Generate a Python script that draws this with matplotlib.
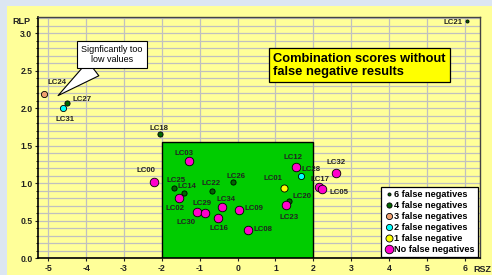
import matplotlib
matplotlib.use("Agg")
import matplotlib.pyplot as plt
from matplotlib.patches import Rectangle
from matplotlib.ticker import MultipleLocator, FormatStrFormatter

plt.rcParams['font.family'] = ['Liberation Sans', 'DejaVu Sans']

# ---- data ----
labels = ["LC21",
          "LC27", "LC18", "LC25", "LC14", "LC22", "LC26", "LC20",
          "LC24",
          "LC31", "LC28",
          "LC01",
          "LC00", "LC03", "LC02", "LC30", "LC29", "LC34", "LC16", "LC09",
          "LC08", "LC12", "LC23", "LC17", "LC05", "LC32"]
rsz = [6.05,
       -4.51, -2.04, -1.69, -1.42, -0.68, -0.11, 1.36,
       -5.10,
       -4.60, 1.68,
       1.22,
       -2.21, -1.29, -1.56, -1.08, -0.85, -0.40, -0.52, 0.04,
       0.28, 1.55, 1.28, 2.14, 2.24, 2.60]
rlp = [3.17,
       2.07, 1.66, 0.93, 0.87, 0.90, 1.01, 0.755,
       2.19,
       2.00, 1.09,
       0.93,
       1.02, 1.29, 0.80, 0.62, 0.60, 0.68, 0.53, 0.64,
       0.375, 1.21, 0.71, 0.95, 0.92, 1.14]
false_neg = [6,
             4, 4, 4, 4, 4, 4, 4,
             3,
             2, 2,
             1,
             0, 0, 0, 0, 0, 0, 0, 0,
             0, 0, 0, 0, 0, 0]
categories = [6, 4, 3, 2, 1, 0]
category_names = ["6 false negatives", "4 false negatives", "3 false negatives",
                  "2 false negatives", "1 false negative", "No false negatives"]
zone_rsz = [-2, 2]
zone_rlp = [0, 1.55]

# ---- styles ----
cat_color = {6: "#006600", 4: "#006600", 3: "#f0a070", 2: "#00ffff", 1: "#ffff00", 0: "#ff00cc"}
cat_size = {6: 5, 4: 14, 3: 20, 2: 20, 1: 26, 0: 38}
label_offset = {
    "LC24": (9, 8), "LC27": (11, 2.5), "LC31": (1, -8), "LC18": (-1, 4),
    "LC21": (-10, -1.5), "LC03": (-3.4, 6), "LC00": (-6, 7.7), "LC25": (2, 5.5),
    "LC14": (2, 4.5), "LC02": (-2.6, -7.7), "LC22": (-0.7, 5.3), "LC26": (1.7, 4.3),
    "LC29": (-2.2, 7), "LC30": (-7.7, -8), "LC34": (2.4, 5.8), "LC16": (0.4, -7.2),
    "LC09": (10.8, 1.4), "LC08": (11, 0.2), "LC12": (-2.6, 6.8), "LC28": (7.2, 4.8),
    "LC01": (-7.5, 7), "LC20": (9.6, 3.6), "LC23": (2.4, -8.9), "LC17": (1, 5.5),
    "LC05": (11.8, -2.7), "LC32": (0, 7.5),
}

fig = plt.figure(figsize=(4.92, 2.75), dpi=100)
fig.patch.set_facecolor("#dce6f2")
bg = Rectangle((7 / 492, 0), 1, 1 - 6 / 275, transform=fig.transFigure,
               facecolor="#ffff99", edgecolor="none", zorder=-10)
fig.patches.append(bg)

ax = fig.add_axes([38 / 492, 17 / 275, 442 / 492, 241 / 275])
ax.set_zorder(1)
ax.set_facecolor("#ffff99")
ax.set_xlim(-5.27, 6.4)
ax.set_ylim(0, 3.22)

ax.xaxis.set_major_locator(MultipleLocator(1))
ax.yaxis.set_major_locator(MultipleLocator(0.5))
ax.yaxis.set_minor_locator(MultipleLocator(0.1))
ax.yaxis.set_major_formatter(FormatStrFormatter("%.1f"))
ax.xaxis.set_major_formatter(FormatStrFormatter("%d"))
ax.grid(True, which="major", axis="x", color="#c0c0c0", lw=0.9, zorder=0)
ax.grid(True, which="both", axis="y", color="#c0c0c0", lw=0.9, zorder=0)
ax.set_axisbelow(True)

ax.tick_params(axis="both", which="major", labelsize=6.2, length=2.5, width=0.8,
               pad=1.5, colors="#222222")
ax.tick_params(axis="y", which="minor", length=1.5, width=0.6)
for lab in ax.get_xticklabels() + ax.get_yticklabels():
    lab.set_fontweight("bold")

for s in ["left", "bottom"]:
    ax.spines[s].set_color("black")
    ax.spines[s].set_linewidth(1.2)
for s in ["top", "right"]:
    ax.spines[s].set_color("#444444")
    ax.spines[s].set_linewidth(1.0)

ax.add_patch(Rectangle((zone_rsz[0], zone_rlp[0]), zone_rsz[1] - zone_rsz[0],
                       zone_rlp[1] - zone_rlp[0], facecolor="#00cc00",
                       edgecolor="black", lw=1.0, zorder=1))

for cat, name in zip(categories, category_names):
    xs = [x for x, c in zip(rsz, false_neg) if c == cat]
    ys = [y for y, c in zip(rlp, false_neg) if c == cat]
    ax.scatter(xs, ys, s=cat_size[cat], c=cat_color[cat], edgecolors="black",
               linewidths=0.6, zorder=3, label=name)

for lab, x, y in zip(labels, rsz, rlp):
    dx, dy = label_offset[lab]
    ax.annotate(lab, (x, y), xytext=(dx, dy), textcoords="offset points",
                ha="center", va="center", fontsize=5.6, fontweight="bold",
                color="#222222", zorder=4)

leg = ax.legend(loc="lower right", bbox_to_anchor=(0.995, 0.004), borderaxespad=0,
                prop={"size": 6.6, "weight": "bold"}, frameon=True, fancybox=False,
                edgecolor="black", facecolor="white", framealpha=1,
                handletextpad=0.1, labelspacing=0.22, borderpad=0.35,
                handlelength=1.0, markerscale=1.0)
leg.get_frame().set_linewidth(0.9)
leg.set_zorder(6)

ax.text(0.532, 0.799, "Combination scores without\nfalse negative results",
        transform=ax.transAxes, ha="left", va="center", fontsize=9.3,
        fontweight="bold", linespacing=1.1, zorder=6,
        bbox=dict(boxstyle="square,pad=0.35", facecolor="#ffff00", edgecolor="black", lw=0.9))

ax.annotate("Signficantly too\nlow values", xy=(-4.74, 2.17), xytext=(-3.32, 2.72),
            textcoords="data", ha="center", va="center", fontsize=6.5, zorder=6,
            bbox=dict(boxstyle="square,pad=0.45", facecolor="white", edgecolor="black", lw=0.8),
            arrowprops=dict(arrowstyle="wedge,tail_width=1.3", mutation_scale=10,
                            facecolor="white", edgecolor="black", lw=0.8,
                            shrinkA=0, shrinkB=0))

fig.text(12 / 492, 1 - 22 / 275, "RLP", ha="left", va="center", fontsize=6.5,
         fontweight="bold", color="#222222")
fig.text(473 / 492, 1 - 270 / 275, "RSZ", ha="left", va="center", fontsize=6.5,
         fontweight="bold", color="#222222")

fig.savefig("out.png", dpi=100, facecolor=fig.get_facecolor())
